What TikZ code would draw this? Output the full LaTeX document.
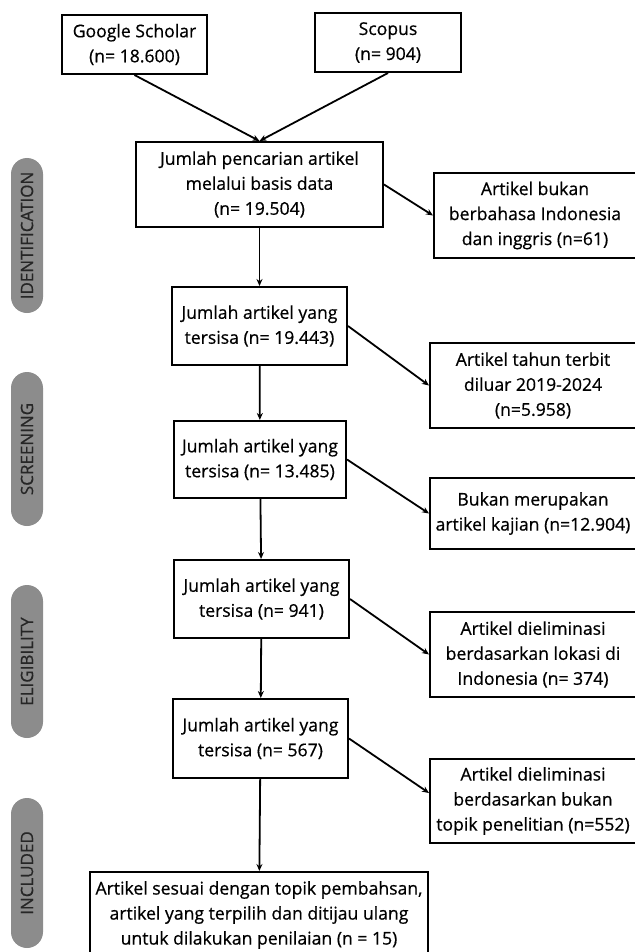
\documentclass[tikz,border=0pt]{standalone}
\usepackage{fontspec}
\setmainfont{Open Sans}[FakeBold=0.6]
\usetikzlibrary{arrows.meta,positioning}
\definecolor{phasegray}{HTML}{8C8C8C}

\begin{document}
\begin{tikzpicture}[
  x=1pt, y=-1pt,
  font=\fontsize{17.6}{25}\selectfont,
  box/.style={draw, line width=2pt, align=center, inner sep=0pt},
  side/.style={box, minimum width=206pt, minimum height=85pt},
  phase/.style={fill=phasegray, rounded corners=16pt, rotate=90, minimum height=32pt,
                inner sep=0pt, text=black!85, font=\fontsize{17}{18}\selectfont},
  arr/.style={-{Stealth[length=7pt,width=6pt]}, line width=1.8pt}]
\useasboundingbox (0,0) rectangle (634,952);

% Phase labels
\node[phase, minimum width=155pt] (pid) at (27,235.5) {IDENTIFICATION};
\node[phase, minimum width=154pt] (psc) at (27,449) {SCREENING};
\node[phase, minimum width=153pt] (pel) at (27,661.5) {ELIGIBILITY};
\node[phase, minimum width=150pt] (pin) at (27,873) {INCLUDED};

% Sources
\node[box, minimum width=145pt, minimum height=59pt] (gs) at (134.5,44.5) {Google Scholar\\(n= 18.600)};
\node[box, minimum width=146pt, minimum height=59pt] (sc) at (388,42.5) {Scopus\\(n= 904)};

% Main column
\node[box, minimum width=247pt, minimum height=85pt] (m0) at (259.5,184.5) {Jumlah pencarian artikel\\melalui basis data\\(n= 19.504)};
\node[box, minimum width=175pt, minimum height=78pt] (m1) at (259.5,326) {Jumlah artikel yang\\tersisa (n= 19.443)};
\node[box, minimum width=172pt, minimum height=77pt] (m2) at (260,459.5) {Jumlah artikel yang\\tersisa (n= 13.485)};
\node[box, minimum width=175pt, minimum height=78pt] (m3) at (261.5,599) {Jumlah artikel yang\\tersisa (n= 941)};
\node[box, minimum width=175pt, minimum height=79pt] (m4) at (260.5,738.5) {Jumlah artikel yang\\tersisa (n= 567)};
\node[box, minimum width=338pt, minimum height=86pt] (m5) at (259,915) {Artikel sesuai dengan topik pembahsan,\\artikel yang terpilih dan ditijau ulang\\untuk dilakukan penilaian (n = 15)};

% Excluded
\node[side, minimum width=202pt] (r1) at (535,215.5) {Artikel bukan\\berbahasa Indonesia\\dan inggris (n=61)};
\node[side] (r2) at (533,385.5) {Artikel tahun terbit\\diluar 2019-2024\\(n=5.958)};
\node[side, minimum height=71pt] (r3) at (533,513.5) {Bukan merupakan\\artikel kajian (n=12.904)};
\node[side] (r4) at (533,654.5) {Artikel dieliminasi\\berdasarkan lokasi di\\Indonesia (n= 374)};
\node[side, minimum height=84pt] (r5) at (533,801) {Artikel dieliminasi\\berdasarkan bukan\\topik penelitian (n=552)};

\draw[arr] (gs.south)--(m0.north); \draw[arr] (sc.south)--(m0.north);
\draw[arr] (m0)--(m1); \draw[arr] (m1)--(m2); \draw[arr] (m2)--(m3);
\draw[arr] (m3)--(m4); \draw[arr] (m4)--(m5);
\draw[arr] (m0.east)--(r1.west); \draw[arr] (m1.east)--(r2.west);
\draw[arr] (m2.east)--(r3.west); \draw[arr] (m3.east)--(r4.west);
\draw[arr] (m4.east)--([yshift=8pt]r5.west);
\end{tikzpicture}
\end{document}
